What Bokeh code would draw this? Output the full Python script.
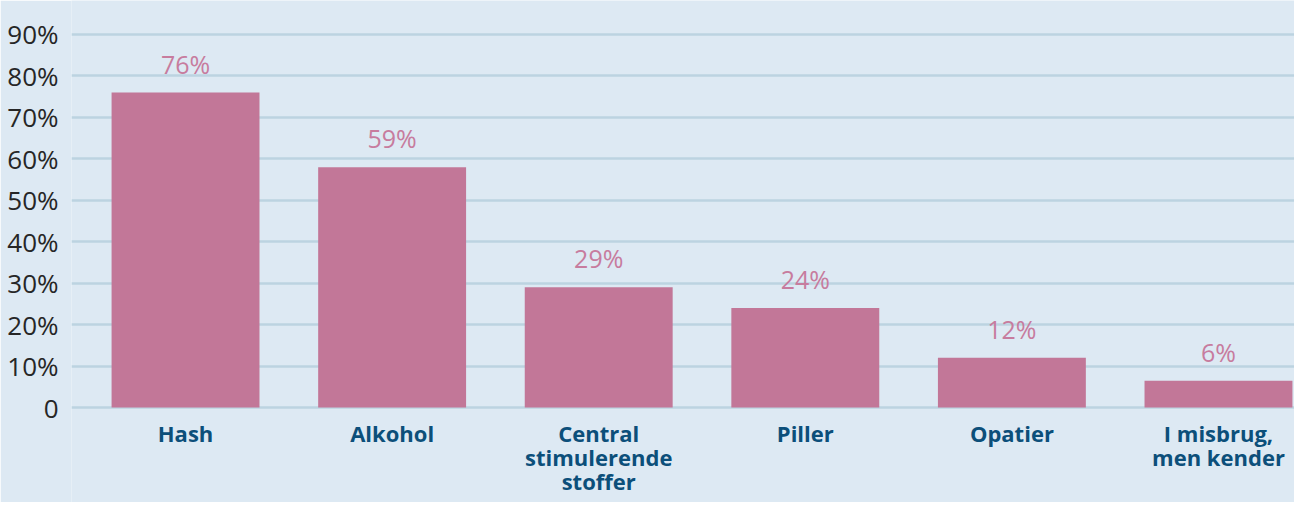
from bokeh.plotting import figure
from bokeh.models import ColumnDataSource, FixedTicker, Range1d
from bokeh.core.properties import value
from bokeh.embed import file_html
from bokeh.resources import INLINE

categories = ["Hash", "Alkohol", "Central\nstimulerende\nstoffer", "Piller", "Opatier", "I misbrug,\nmen kender"]
values = [76, 58, 29, 24, 12, 6.5]
value_labels = ["76%", "59%", "29%", "24%", "12%", "6%"]
y_ticks = [0, 10, 20, 30, 40, 50, 60, 70, 80, 90]
y_tick_labels = ["0", "10%", "20%", "30%", "40%", "50%", "60%", "70%", "80%", "90%"]

BG = "#dde9f3"
BAR = "#c27798"
FONT = "Open Sans"

xs = list(range(len(categories)))
src = ColumnDataSource(dict(x=xs, top=values, lab=value_labels, cat=categories, base=[0] * len(xs)))

p = figure(width=1294, height=502, output_backend="svg", toolbar_location=None,
           x_range=Range1d(-0.552, 5.368), y_range=Range1d(-22.9, 98.2),
           min_border_left=71, min_border_right=0, min_border_top=0, min_border_bottom=0)
p.background_fill_color = BG
p.border_fill_color = BG
p.outline_line_color = None

p.vbar(x="x", top="top", bottom=0, width=0.716, source=src, fill_color=BAR, line_color=None)
p.text(x="x", y="top", text="lab", source=src, text_align="center", text_baseline="alphabetic",
       y_offset=-29, text_font=value(FONT), text_font_size="25px", text_color="#c77c9e")

# category labels below the bars
p.text(x="x", y="base", text="cat", source=src, text_align="center", text_baseline="top",
       y_offset=10, text_font=value(FONT), text_font_size="22px", text_font_style="bold",
       text_color="#0c4f7a", text_line_height=0.8)

# y axis
p.yaxis.ticker = FixedTicker(ticks=y_ticks)
p.yaxis.major_label_overrides = {t: l for t, l in zip(y_ticks, y_tick_labels)}
p.yaxis.axis_line_color = None
p.yaxis.major_tick_line_color = None
p.yaxis.minor_tick_line_color = None
p.yaxis.major_label_standoff = 7
p.yaxis.major_label_text_font = FONT
p.yaxis.major_label_text_font_size = "26px"
p.yaxis.major_label_text_color = "#262626"

p.xaxis.visible = False

p.xgrid.grid_line_color = None
p.ygrid.ticker = FixedTicker(ticks=y_ticks)
p.ygrid.grid_line_color = "#bcd3e1"
p.ygrid.grid_line_width = 2.5

open("out.html", "w").write(file_html(p, INLINE))
